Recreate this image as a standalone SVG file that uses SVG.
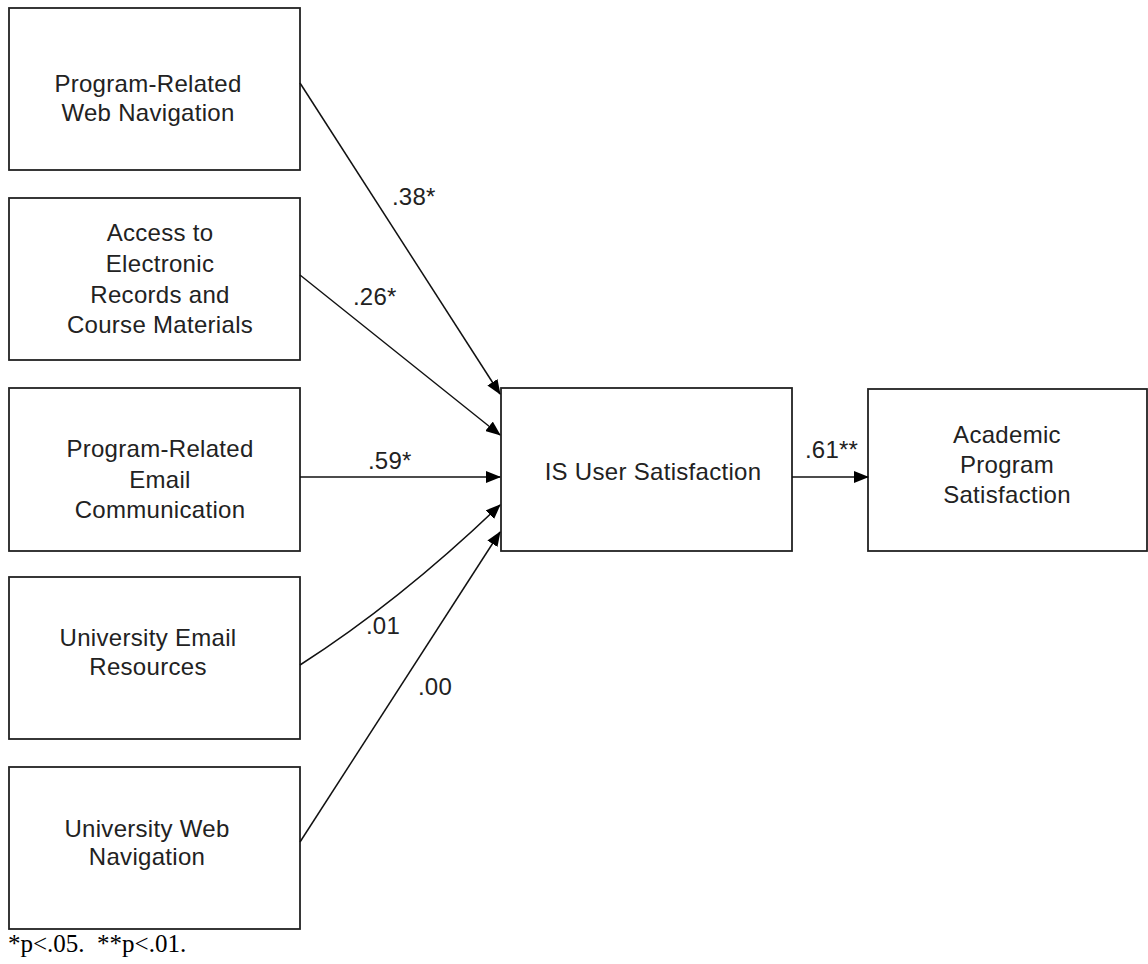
<svg xmlns="http://www.w3.org/2000/svg" width="1148" height="964" viewBox="0 0 1148 964">
<style>
.box{fill:#fff;stroke:#222;stroke-width:1.8}
.t{font-family:"Liberation Sans",Arial,sans-serif;font-size:24px;fill:#222;text-anchor:middle;letter-spacing:0.3px}
.lbl{font-family:"Liberation Sans",Arial,sans-serif;font-size:24px;fill:#222;letter-spacing:0.2px}
.edge{fill:none;stroke:#111;stroke-width:1.5;marker-end:url(#ah)}
.note{font-family:"Liberation Serif","Times New Roman",serif;font-size:25px;fill:#000;white-space:pre}
</style>
<defs>
<marker id="ah" markerUnits="userSpaceOnUse" markerWidth="15" markerHeight="12" refX="14" refY="6" orient="auto">
<path d="M0,0 L15,6 L0,12 Z" fill="#000"/>
</marker>
</defs>
<rect width="1148" height="964" fill="#fff"/>
<g id="n1"><rect class="box" x="9" y="8" width="291" height="162"/>
<text class="t" x="148" y="92">Program-Related</text><text class="t" x="148" y="121">Web Navigation</text></g>
<g id="n2"><rect class="box" x="9" y="198" width="291" height="162"/>
<text class="t" x="160" y="241">Access to</text><text class="t" x="160" y="272">Electronic</text><text class="t" x="160" y="303">Records and</text><text class="t" x="160" y="333">Course Materials</text></g>
<g id="n3"><rect class="box" x="9" y="388" width="291" height="163"/>
<text class="t" x="160" y="457">Program-Related</text><text class="t" x="160" y="488">Email</text><text class="t" x="160" y="518">Communication</text></g>
<g id="n4"><rect class="box" x="9" y="577" width="291" height="162"/>
<text class="t" x="148" y="646">University Email</text><text class="t" x="148" y="675">Resources</text></g>
<g id="n5"><rect class="box" x="9" y="767" width="291" height="162"/>
<text class="t" x="147" y="837">University Web</text><text class="t" x="147" y="865">Navigation</text></g>
<g id="n6"><rect class="box" x="501" y="388" width="291" height="163"/>
<text class="t" x="653" y="480">IS User Satisfaction</text></g>
<g id="n7"><rect class="box" x="868" y="389" width="279" height="162"/>
<text class="t" x="1007" y="443">Academic</text><text class="t" x="1007" y="473">Program</text><text class="t" x="1007" y="503">Satisfaction</text></g>
<g id="connectors">
<path class="edge" d="M300,83 L500,394"/>
<path class="edge" d="M300,275 L500,435"/>
<path class="edge" d="M300,477 L500,477"/>
<path class="edge" d="M300,665 Q400,601 500,505"/>
<path class="edge" d="M300,842 L500,532"/>
<path class="edge" d="M792,477 L868,477"/>
<text class="lbl" x="392" y="205">.38*</text>
<text class="lbl" x="353" y="305">.26*</text>
<text class="lbl" x="368" y="469">.59*</text>
<text class="lbl" x="366" y="634">.01</text>
<text class="lbl" x="418" y="695">.00</text>
<text class="lbl" x="805" y="458">.61**</text>
</g>
<text class="note" x="8" y="952" xml:space="preserve">*p&lt;.05.  **p&lt;.01.</text>
</svg>
